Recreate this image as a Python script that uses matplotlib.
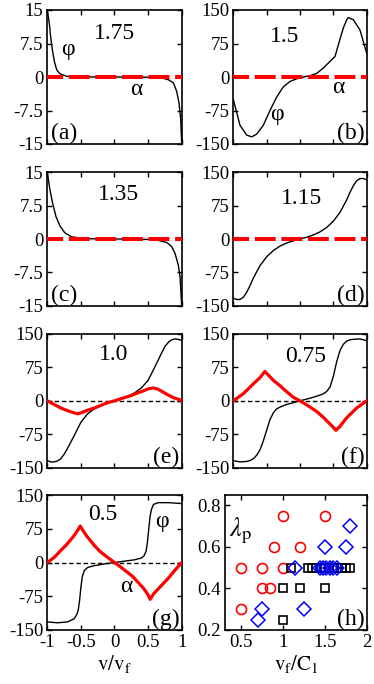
import matplotlib
matplotlib.use('Agg')
import matplotlib.pyplot as plt
from matplotlib.ticker import FormatStrFormatter

plt.rcParams['font.family'] = ['Liberation Serif', 'DejaVu Serif']
plt.rcParams['mathtext.fontset'] = 'stix'
plt.rcParams['axes.unicode_minus'] = False

# phi curves (black)
a_x = [-1.0, -0.97, -0.95, -0.925, -0.895, -0.86, -0.81, -0.71, -0.5, 0.0, 0.5, 0.7, 0.8, 0.876, 0.925, 0.96, 0.985, 1.0]
a_phi = [15, 12, 9, 6.1, 3.5, 1.6, 0.7, 0.15, 0.02, 0, -0.05, -0.2, -0.6, -1.3, -3.2, -5.8, -9.5, -15]

b_x = [-1.0, -0.9, -0.8, -0.725, -0.65, -0.55, -0.45, -0.35, -0.25, -0.15, -0.05, 0.05, 0.15, 0.25,
       0.35, 0.45, 0.525, 0.6, 0.65, 0.7, 0.725, 0.8, 0.9, 1.0]
b_phi = [-50, -108, -130, -134, -128, -108, -75, -45, -22, -10, -4, 0, 3, 8,
         20, 35, 46, 85, 110, 128, 133, 128, 105, 53]

c_x = [-1.0, -0.96, -0.92, -0.87, -0.81, -0.74, -0.64, -0.49, -0.3, 0.0, 0.3, 0.5, 0.65, 0.78, 0.85, 0.9, 0.95, 0.975, 1.0]
c_phi = [15, 11, 8, 5, 2.9, 1.4, 0.5, 0.15, 0.03, 0, -0.03, -0.1, -0.3, -0.8, -1.7, -3.2, -5.9, -8.5, -15]

d_x = [-1.0, -0.95, -0.9, -0.85, -0.8, -0.75, -0.7, -0.6, -0.5, -0.4, -0.3, -0.2, -0.1, 0.0,
       0.1, 0.2, 0.3, 0.4, 0.5, 0.6, 0.7, 0.75, 0.8, 0.85, 0.9, 0.95, 1.0]
d_phi = [-133, -136, -136, -131, -120, -105, -88, -60, -40, -26, -16, -9, -4, 0,
         4, 9, 16, 26, 40, 60, 88, 105, 120, 131, 136, 136, 133]

e_x = [-1.0, -0.95, -0.9, -0.85, -0.8, -0.75, -0.7, -0.6, -0.5, -0.4, -0.3, -0.2, -0.1, 0.0,
       0.1, 0.2, 0.3, 0.4, 0.5, 0.6, 0.7, 0.75, 0.8, 0.85, 0.9, 0.95, 1.0]
e_phi = [-134, -137, -137, -135, -130, -120, -107, -78, -48, -29, -18, -10, -5, 0,
         5, 10, 18, 29, 46, 76, 107, 122, 131, 137, 139, 138, 135]

f_x = [-1.0, -0.9, -0.8, -0.75, -0.7, -0.65, -0.6, -0.55, -0.5, -0.45, -0.4, -0.35, -0.3, -0.2, -0.1, 0.0,
       0.1, 0.2, 0.3, 0.35, 0.4, 0.45, 0.5, 0.55, 0.6, 0.65, 0.7, 0.75, 0.8, 0.9, 1.0]
f_phi = [-134, -137, -136, -134, -130, -122, -110, -90, -66, -42, -27, -18, -14, -8, -4, 0,
         4, 8, 13, 16, 21, 31, 55, 88, 113, 127, 134, 137, 138, 139, 135]

g_x = [-1.0, -0.85, -0.7, -0.6, -0.56, -0.54, -0.52, -0.5, -0.48, -0.45, -0.4, -0.3, -0.2, -0.1, 0.0,
       0.1, 0.2, 0.3, 0.4, 0.44, 0.47, 0.49, 0.51, 0.53, 0.55, 0.58, 0.65, 0.8, 1.0]
g_phi = [-132, -134, -132, -125, -115, -106, -85, -55, -32, -18, -11, -7, -4.5, -2, 0,
         2, 4, 6, 10, 15, 25, 45, 75, 103, 118, 129, 133, 133, 131]

# alpha curves (red) for panels e-g
e_ax = [-1.0, -0.9, -0.8, -0.7, -0.6, -0.55, -0.5, -0.4, -0.3, -0.2, -0.1, 0.0,
        0.1, 0.25, 0.35, 0.44, 0.5, 0.58, 0.65, 0.73, 0.8, 0.88, 1.0]
e_alpha = [0, -8, -16, -22, -27, -29, -27, -21, -16, -10, -4, 0,
           5, 12, 18, 23, 27, 29, 26, 19, 13, 7, 1]

f_ax = [-1.0, -0.85, -0.7, -0.6, -0.527, -0.45, -0.4, -0.3, -0.25, -0.1, 0.0,
        0.1, 0.25, 0.35, 0.45, 0.54, 0.6, 0.7, 0.85, 1.0]
f_alpha = [0, 16, 38, 52, 66, 54, 46, 34, 27, 8, 0,
           -9, -24, -37, -52, -66, -57, -38, -16, 0]

g_ax = [-1.0, -0.9, -0.81, -0.7, -0.61, -0.55, -0.51, -0.46, -0.41, -0.3, -0.22, -0.1, 0.0,
        0.1, 0.22, 0.27, 0.43, 0.5, 0.53, 0.58, 0.68, 0.8, 0.9, 1.0]
g_alpha = [0, 11, 25, 42, 58, 71, 81, 69, 58, 38, 25, 11, 0,
           -11, -25, -31, -57, -72, -82, -70, -54, -35, -17, 0]

# panel h scatter
circ_x = [0.5, 0.5, 0.75, 1.0, 0.75, 0.85, 0.9, 1.2, 1.0, 1.5]
circ_y = [0.3, 0.5, 0.5, 0.5, 0.4, 0.4, 0.6, 0.6, 0.75, 0.75]
sq_x = [1.0, 1.0, 1.2, 1.5, 1.1, 1.3, 1.35, 1.4, 1.45, 1.5, 1.55, 1.6, 1.65, 1.7, 1.75, 1.8]
sq_y = [0.25, 0.4, 0.4, 0.4, 0.5, 0.5, 0.5, 0.5, 0.5, 0.5, 0.5, 0.5, 0.5, 0.5, 0.5, 0.5]
dia_x = [0.7, 0.75, 1.25, 1.15, 1.5, 1.75, 1.8, 1.44, 1.48, 1.52, 1.56, 1.6, 1.64]
dia_y = [0.25, 0.3, 0.3, 0.5, 0.6, 0.6, 0.7, 0.5, 0.5, 0.5, 0.5, 0.5, 0.5]

speeds = ['1.75', '1.5', '1.35', '1.15', '1.0', '0.75', '0.5']

W, H = 374, 684
fig = plt.figure(figsize=(W / 100, H / 100), dpi=100)

# axes boxes in pixels: left, top, right, bottom
boxes = {
    'a': (47.3, 10, 181.7, 144), 'b': (233.3, 10, 366.7, 144),
    'c': (47.3, 172.3, 181.7, 305.7), 'd': (233.3, 172.3, 366.7, 305.7),
    'e': (47.3, 334, 181.7, 467.7), 'f': (233.3, 334, 366.7, 467.7),
    'g': (47.3, 495, 181.7, 630), 'h': (225, 495, 366.7, 630),
}


def make_ax(key):
    l, t, r, b = boxes[key]
    ax = fig.add_axes([l / W, 1 - b / H, (r - l) / W, (b - t) / H])
    for s in ax.spines.values():
        s.set_linewidth(1.2)
    ax.tick_params(direction='in', top=True, right=True, length=3.6, width=1.0,
                   labelsize=13.5, pad=3)
    return ax


def style_v(ax, small, show_x=False):
    ax.set_xlim(-1, 1)
    ax.set_xticks([-1, -0.5, 0, 0.5, 1])
    if small:
        ax.set_ylim(-15, 15)
        ax.set_yticks([-15, -7.5, 0, 7.5, 15])
    else:
        ax.set_ylim(-150, 150)
        ax.set_yticks([-150, -75, 0, 75, 150])
    ax.yaxis.set_major_formatter(FormatStrFormatter('%g'))
    ax.xaxis.set_major_formatter(FormatStrFormatter('%g'))
    if not show_x:
        ax.set_xticklabels([])


red_dash = dict(color='red', lw=2.9, ls=(1.2, (5.2, 1.4)), zorder=3)
black_dash = dict(color='black', lw=1.0, ls=(0, (3.2, 2.0)), zorder=1)
txt = dict(fontsize=17)

# top two rows: alpha = 0
panels = [('a', a_x, a_phi, True), ('b', b_x, b_phi, False),
          ('c', c_x, c_phi, True), ('d', d_x, d_phi, False)]
for key, xs, ys, small in panels:
    ax = make_ax(key)
    style_v(ax, small)
    ax.plot(xs, ys, color='black', lw=1.0, zorder=2)
    ax.plot([-1, 1], [0, 0], **red_dash)
    if key in ('a', 'c'):
        ax.text(0.03, 0.08, '(%s)' % key, transform=ax.transAxes, ha='left', va='center', **txt)
    else:
        ax.text(0.985, 0.08, '(%s)' % key, transform=ax.transAxes, ha='right', va='center', **txt)
    if key == 'a':
        ax.text(0.0, 9.8, speeds[0], ha='center', va='center', **txt)
        ax.text(-0.69, 6.1, 'φ', ha='center', va='center', **txt)
        ax.text(0.33, -2.8, 'α', ha='center', va='center', **txt)
    elif key == 'b':
        ax.text(-0.225, 90, speeds[1], ha='center', va='center', **txt)
        ax.text(0.575, -24, 'α', ha='center', va='center', **txt)
        ax.text(-0.35, -84, 'φ', ha='center', va='center', **txt)
    elif key == 'c':
        ax.text(0.06, 9.9, speeds[2], ha='center', va='center', **txt)
    else:
        ax.text(0.02, 91, speeds[3], ha='center', va='center', **txt)

# bottom rows: alpha nonzero
panels2 = [('e', e_x, e_phi, e_ax, e_alpha, speeds[4], (-0.02, 103)),
           ('f', f_x, f_phi, f_ax, f_alpha, speeds[5], (0.09, 99)),
           ('g', g_x, g_phi, g_ax, g_alpha, speeds[6], (-0.17, 107))]
for key, xs, ys, axs, als, lab, pos in panels2:
    ax = make_ax(key)
    style_v(ax, False, show_x=(key == 'g'))
    ax.plot([-1, 1], [0, 0], **black_dash)
    ax.plot(xs, ys, color='black', lw=1.0, zorder=2)
    ax.plot(axs, als, color='red', lw=2.3, zorder=3)
    ax.text(pos[0], pos[1], lab, ha='center', va='center', **txt)
    ax.text(0.985, 0.08, '(%s)' % key, transform=ax.transAxes, ha='right', va='center', **txt)
    if key == 'g':
        ax.text(0.7, 92, 'φ', ha='center', va='center', **txt)
        ax.text(0.18, -54, 'α', ha='center', va='center', **txt)
        ax.set_xlabel(r'$\mathrm{v/v_f}$', fontsize=15, labelpad=1)

# panel h
ax = make_ax('h')
ax.set_xlim(0.31, 2.0)
ax.set_ylim(0.2, 0.85)
ax.set_xticks([0.5, 1, 1.5, 2])
ax.set_yticks([0.2, 0.4, 0.6, 0.8])
ax.xaxis.set_major_formatter(FormatStrFormatter('%g'))
ax.plot(circ_x, circ_y, 'o', ms=7.2, mfc='none', mec='red', mew=1.2, zorder=2)
ax.plot(sq_x, sq_y, 's', ms=6.0, mfc='none', mec='black', mew=1.2, zorder=3)
ax.plot(dia_x, dia_y, 'D', ms=6.8, mfc='none', mec='blue', mew=1.1, zorder=4)
ax.text(0.5, 0.68, r'$\lambda_{\mathrm{p}}$', ha='center', va='center', fontsize=19)
ax.text(0.985, 0.08, '(h)', transform=ax.transAxes, ha='right', va='center', **txt)
ax.set_xlabel(r'$\mathrm{v_f/C_1}$', fontsize=15, labelpad=1)

fig.savefig('out.png', dpi=100)
